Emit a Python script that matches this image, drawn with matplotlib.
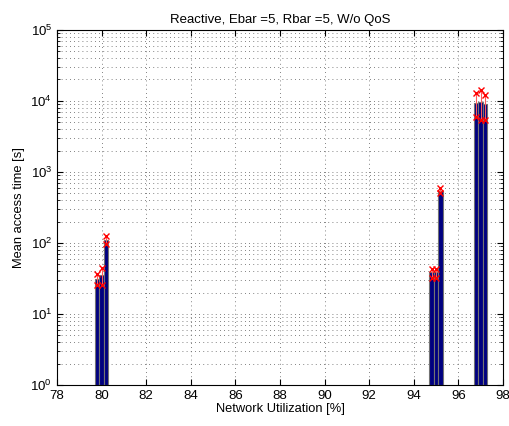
import numpy as np
import matplotlib
matplotlib.use("Agg")
import matplotlib.pyplot as plt

plt.rcParams['font.family'] = ['Liberation Sans', 'DejaVu Sans']

# network utilization groups and mean access time per series
utilization = [80, 95, 97]
means = [[30, 35, 110],
         [38, 38, 530],
         [9300, 9500, 9000]]
lower = [[26, 26, 97],
         [32, 32, 500],
         [5900, 5400, 5400]]
upper = [[37, 44, 125],
         [43, 43, 590],
         [12900, 14000, 12000]]

fig = plt.figure(figsize=(5.09, 4.26), dpi=100)
ax = fig.add_axes([0.112, 0.096, 0.876, 0.834])

offsets = [-0.195, 0.0, 0.195]
for j, off in enumerate(offsets):
    xs = np.array(utilization) + off
    ys = np.array([m[j] for m in means])
    lo = np.array([l[j] for l in lower])
    hi = np.array([u[j] for u in upper])
    ax.bar(xs, ys, width=0.195, bottom=1, color=(0, 0, 0.5), edgecolor='0.45',
           linewidth=0.8, zorder=2)
    ax.vlines(xs, lo, hi, color=(1, 0.35, 0.35), linewidth=0.8, zorder=3)
    ax.plot(xs, lo, 'x', color='red', markersize=5, mew=1.0, zorder=4)
    ax.plot(xs, hi, 'x', color='red', markersize=5, mew=1.0, zorder=4)

ax.set_yscale('log')
ax.set_xlim(78, 98)
ax.set_ylim(1, 1e5)
ax.set_xticks(np.arange(78, 99, 2))
ax.tick_params(which='both', direction='in', top=True, right=True, labelsize=9.5)
ax.tick_params(which='major', length=4)
ax.tick_params(which='minor', length=2)
ax.grid(True, which='major', axis='both', linestyle=(0, (1, 4)), color='0.35', linewidth=0.6)
ax.grid(True, which='minor', axis='y', linestyle=(0, (1, 4)), color='0.35', linewidth=0.6)
ax.set_axisbelow(True)

ax.set_title('Reactive, Ebar =5, Rbar =5, W/o QoS', fontsize=9.5, pad=5)
ax.set_xlabel('Network Utilization [%]', fontsize=9.3, labelpad=1)
ax.set_ylabel('Mean access time [s]', fontsize=9.3, labelpad=4)

fig.savefig('out.png', dpi=100)
